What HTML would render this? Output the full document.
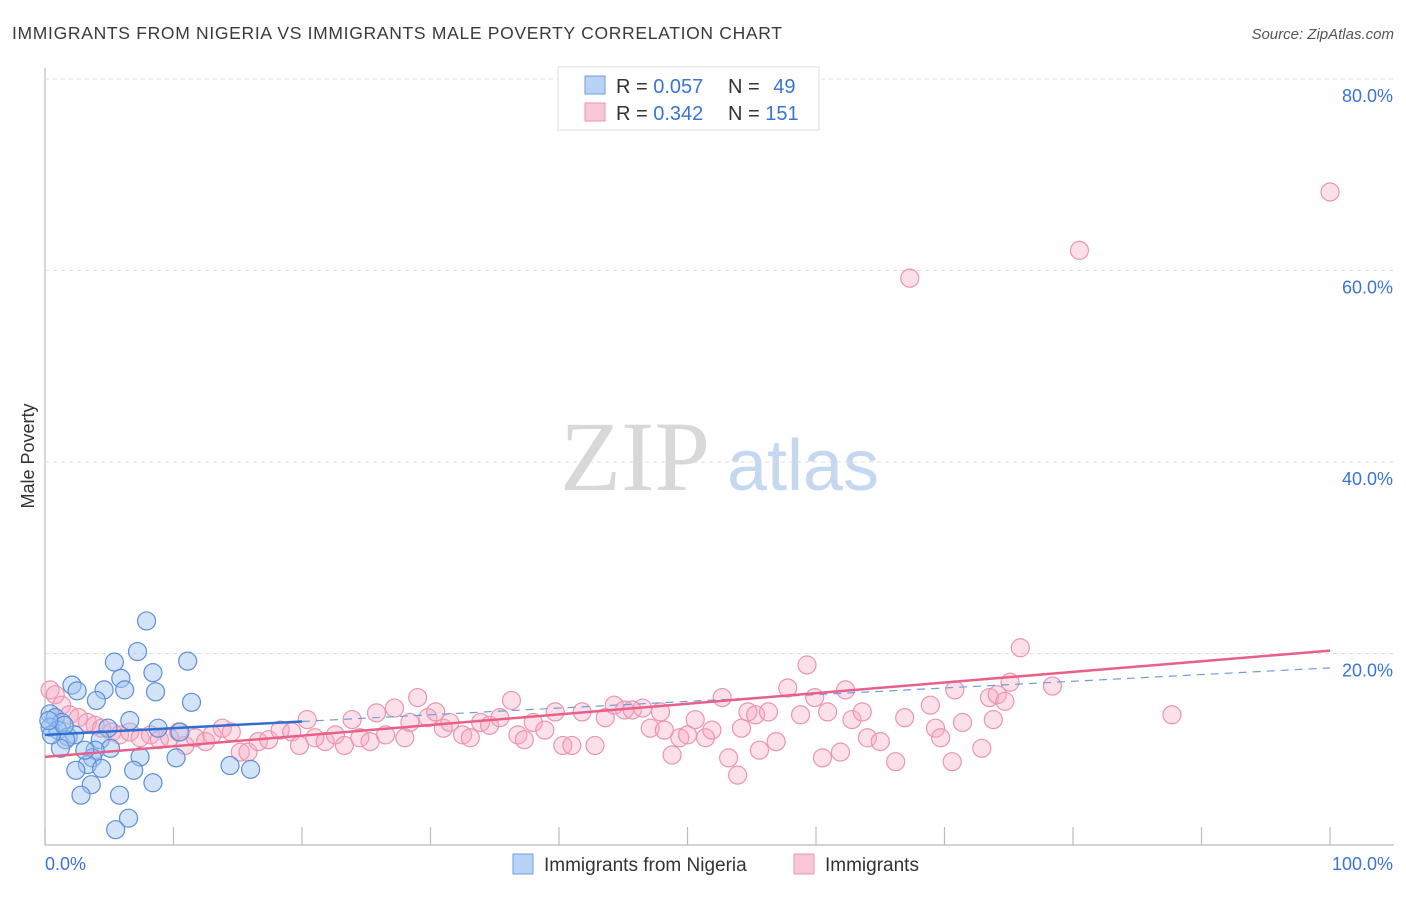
<!DOCTYPE html>
<html><head><meta charset="utf-8"><style>
body{margin:0;background:#fff;font-family:"Liberation Sans",sans-serif;}
svg text{font-family:"Liberation Sans",sans-serif;}
svg text.serif{font-family:"Liberation Serif",serif;}
</style></head><body>
<svg id="c" width="1406" height="892" xmlns="http://www.w3.org/2000/svg">
<text x="12" y="39" font-size="17.5" fill="#3a3a3a" textLength="770" lengthAdjust="spacing">IMMIGRANTS FROM NIGERIA VS IMMIGRANTS MALE POVERTY CORRELATION CHART</text>
<text x="1394" y="39" font-size="15" fill="#555" font-style="italic" text-anchor="end">Source: ZipAtlas.com</text>
<text class="serif" x="635" y="490" font-size="100" fill="#d8d8d8" text-anchor="middle">ZIP</text>
<text x="803" y="490" font-size="72" fill="#c6d8f0" text-anchor="middle">atlas</text>
<text transform="translate(34,456) rotate(-90)" font-size="18" fill="#333" text-anchor="middle">Male Poverty</text>
<g id="grid"></g><g id="marks"></g><g id="lines"></g>
<g>
<rect x="558" y="67" width="261" height="63" fill="#fff" stroke="#ddd"/>
<rect x="585" y="76" width="20" height="18" fill="#b8d3f5" stroke="#6d9de0"/>
<rect x="585" y="103" width="20" height="18" fill="#f9c7d6" stroke="#eb94b1"/>
<text x="616" y="93" font-size="20" fill="#333">R = <tspan fill="#3a74d6">0.057</tspan></text>
<text x="728" y="93" font-size="20" fill="#333">N = <tspan fill="#3a74d6" dx="8">49</tspan></text>
<text x="616" y="120" font-size="20" fill="#333">R = <tspan fill="#3a74d6">0.342</tspan></text>
<text x="728" y="120" font-size="20" fill="#333">N = <tspan fill="#3a74d6">151</tspan></text>
</g>
<g>
<rect x="513" y="854" width="20" height="20" fill="#b8d3f5" stroke="#6d9de0"/>
<text x="544" y="871" font-size="19" fill="#333">Immigrants from Nigeria</text>
<rect x="794" y="854" width="20" height="20" fill="#f9c7d6" stroke="#eb94b1"/>
<text x="825" y="871" font-size="19" fill="#333">Immigrants</text>
</g>
</svg>
<script>
const yTicks=[20,40,60,80];
const xTickVals=[0,10,20,30,40,50,60,70,80,90,100];
const blueX=[7.9,5.4,7.2,11.1,8.4,2.1,2.5,5.9,6.2,8.6,4.6,4.0,11.4,0.4,0.8,1.3,6.6,8.8,4.9,0.4,1.0,1.8,2.3,1.6,1.2,4.3,5.1,3.9,3.7,3.3,2.4,4.4,7.4,10.2,6.9,14.4,16.0,3.6,2.8,8.4,5.8,6.5,5.5,10.5,0.5,3.1,1.5,0.3];
const blueY=[23.4,19.1,20.2,19.2,18.0,16.7,16.1,17.4,16.2,16.0,16.2,15.1,14.9,13.7,13.3,12.8,13.0,12.2,12.2,12.3,12.0,11.3,11.5,11.0,10.1,11.0,10.1,9.9,9.1,8.4,7.8,8.0,9.2,9.1,7.8,8.3,7.9,6.3,5.2,6.5,5.2,2.8,1.6,11.8,11.5,9.9,12.5,13.0];
const pinkX=[0.4,0.8,1.3,1.9,2.6,3.3,3.9,4.4,5.2,5.8,6.6,7.4,8.2,8.9,9.7,10.4,10.9,11.7,12.5,13.0,13.8,14.5,15.2,15.8,16.6,17.4,18.3,19.2,19.8,20.4,21.0,21.8,22.6,23.3,23.9,24.5,25.3,25.8,26.5,27.2,28.0,28.4,29.0,29.8,30.4,31.0,31.5,32.5,33.1,33.9,34.6,35.4,36.3,36.8,37.3,38.0,38.9,39.7,40.3,41.0,41.8,42.8,43.6,44.3,45.1,45.7,46.5,47.1,47.9,48.2,48.8,49.4,50.0,50.6,51.4,51.9,52.7,53.2,53.9,54.2,54.7,55.3,55.6,56.3,56.9,57.8,58.8,59.3,59.9,60.5,60.9,61.9,62.3,62.8,63.6,64.0,65.0,66.2,66.9,67.3,68.9,69.3,69.7,70.6,70.8,71.4,72.9,73.5,74.1,74.7,75.1,75.9,78.4,80.5,87.7,100,73.8];
const pinkY=[16.2,15.7,14.6,13.6,13.3,12.8,12.5,12.2,11.8,11.5,11.8,11.2,11.5,11.0,11.2,11.8,10.4,11.2,10.8,11.5,12.2,11.8,9.7,9.7,10.8,11.0,12.0,11.8,10.4,13.1,11.2,10.8,11.5,10.4,13.1,11.2,10.8,13.8,11.5,14.3,11.2,12.8,15.4,13.3,13.9,12.2,12.8,11.5,11.2,12.8,12.5,13.3,15.1,11.5,11.0,12.8,12.0,13.9,10.4,10.4,13.9,10.4,13.3,14.6,14.1,14.1,14.3,12.2,13.9,12.0,9.4,11.2,11.5,13.1,11.2,12.0,15.4,9.1,7.3,12.2,13.9,13.6,9.9,13.9,10.8,16.4,13.6,18.8,15.4,9.1,13.9,9.7,16.2,13.1,13.9,11.2,10.8,8.7,13.3,59.2,14.6,12.2,11.2,8.7,16.2,12.8,10.1,15.4,15.7,15.0,17.0,20.6,16.6,62.1,13.6,68.2,13.1];
const pinkTrend=[9.2,20.3];
const blueTrend=[11.5,18.5];
const blueSolidEnd=20;
const X=v=>45+v*12.85, Y=v=>845-v*9.575;
const NS='http://www.w3.org/2000/svg';
function mk(t,a,p){const e=document.createElementNS(NS,t);for(const k in a)e.setAttribute(k,a[k]);p.appendChild(e);return e;}
const g=document.getElementById('grid');
const ax=mk('line',{x1:45,y1:68,x2:45,y2:845,stroke:'#bbb','stroke-width':1.2},g);


const bx=mk('line',{x1:45,y1:845,x2:1394,y2:845,stroke:'#bbb','stroke-width':1.2},g);


yTicks.forEach(v=>{
 const l=mk('line',{x1:45,y1:Y(v),x2:1394,y2:Y(v),stroke:'#ddd','stroke-dasharray':'4,4'},g);
 
 
 const t=mk('text',{x:1393,y:Y(v)+23,'font-size':18,fill:'#3a74d6','text-anchor':'end'},g);
 t.textContent=v.toFixed(1)+'%';
 
 
});
xTickVals.forEach(v=>{
 const l=mk('line',{x1:X(v),y1:827,x2:X(v),y2:845,stroke:'#bbb','stroke-width':1.2},g);
 
 
});
const t0=mk('text',{x:45,y:870,'font-size':18,fill:'#3a74d6'},g);t0.textContent='0.0%';


const t1=mk('text',{x:1393,y:870,'font-size':18,fill:'#3a74d6','text-anchor':'end'},g);t1.textContent='100.0%';


const m=document.getElementById('marks');
pinkX.forEach((x,i)=>{
 const c=mk('circle',{cx:X(x),cy:Y(pinkY[i]),r:9,fill:'rgba(245,165,192,0.35)',stroke:'#eb94b1','stroke-width':1.2},m);
 
 
});
blueX.forEach((x,i)=>{
 const c=mk('circle',{cx:X(x),cy:Y(blueY[i]),r:9,fill:'rgba(160,196,240,0.45)',stroke:'#5b8fd9','stroke-width':1.2},m);
 
 
});
const L=document.getElementById('lines');
const bAt=x=>blueTrend[0]+(blueTrend[1]-blueTrend[0])*x/100;
const bd=mk('line',{x1:X(blueSolidEnd),y1:Y(bAt(blueSolidEnd)),x2:X(100),y2:Y(blueTrend[1]),stroke:'#6d9de0','stroke-width':1.2,'stroke-dasharray':'8,6'},L);


const pl=mk('line',{x1:X(0),y1:Y(pinkTrend[0]),x2:X(100),y2:Y(pinkTrend[1]),stroke:'#e8608a','stroke-width':2.5},L);


const bl=mk('line',{x1:X(0),y1:Y(blueTrend[0]),x2:X(blueSolidEnd),y2:Y(bAt(blueSolidEnd)),stroke:'#2f6fd0','stroke-width':2.5},L);


</script>
</body></html>
